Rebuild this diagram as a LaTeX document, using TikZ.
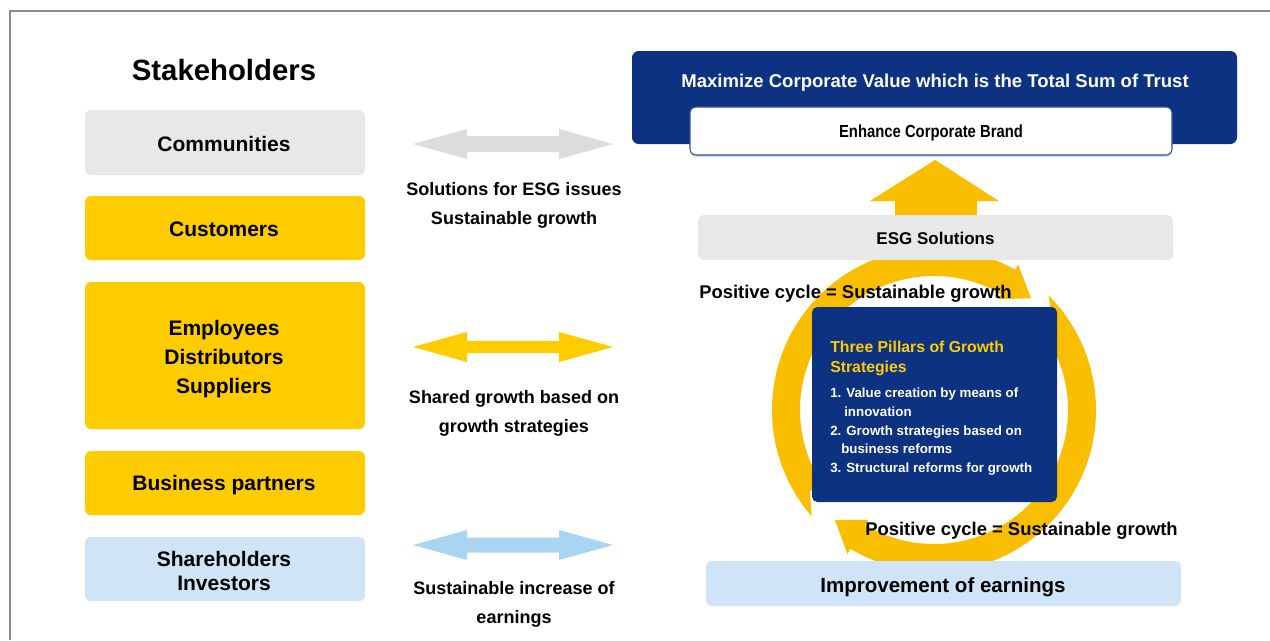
\documentclass[tikz,border=0pt]{standalone}
\usepackage{fontspec}
\setmainfont{Liberation Sans}
\usetikzlibrary{calc,shadows}
\definecolor{navy}{RGB}{13,50,130}
\definecolor{boxgray}{RGB}{232,232,232}
\definecolor{arrgray}{RGB}{220,220,220}
\definecolor{boxyellow}{RGB}{255,204,0}
\definecolor{ringyellow}{RGB}{249,190,0}
\definecolor{boxblue}{RGB}{207,229,247}
\definecolor{arrblue}{RGB}{169,213,243}
\definecolor{framegray}{RGB}{140,140,140}
\newcommand\dblarrow[3]{%
  \fill[#1] (413,#2) -- (467,#2-15) -- (467,#2-#3) -- (559,#2-#3) -- (559,#2-15) -- (613,#2)
    -- (559,#2+15) -- (559,#2+#3) -- (467,#2+#3) -- (467,#2+15) -- cycle;}
\begin{document}
\begin{tikzpicture}[x=0.75pt,y=-0.75pt,
  lbox/.style={rounded corners=4.5pt, inner sep=0pt, minimum width=210pt},
  ltxt/.style={inner sep=0pt, align=center, font=\fontsize{15.75}{21.75}\selectfont\bfseries},
  rbox/.style={rounded corners=4.5pt, inner sep=0pt, minimum width=356.25pt, minimum height=33.75pt},
  lbl/.style={align=center, inner sep=0pt, font=\fontsize{13.5}{21.75}\selectfont\bfseries},
  cyc/.style={inner sep=0pt, font=\fontsize{13.8}{16}\selectfont\bfseries},
  pil/.style={anchor=base west, inner sep=0pt, text=white, font=\fontsize{10}{12}\selectfont\bfseries},
  pilt/.style={anchor=base west, inner sep=0pt, text=boxyellow, font=\fontsize{11.85}{14}\selectfont\bfseries}
]
\useasboundingbox (0,0) rectangle (1270,640);
% frame
\draw[framegray, line width=1pt] (10,640) -- (10,11) -- (1270,11);

% stakeholders column
\node[inner sep=0pt, font=\fontsize{22}{26}\selectfont\bfseries] (title) at (224,70) {Stakeholders};
\node[lbox, fill=boxgray, minimum height=48.75pt] (comm) at (225,142.5) {};
\node[lbox, fill=boxyellow, minimum height=48pt] (cust) at (225,228) {};
\node[lbox, fill=boxyellow, minimum height=110.25pt] (emp) at (225,355.5) {};
\node[lbox, fill=boxyellow, minimum height=48pt] (bus) at (225,483) {};
\node[lbox, fill=boxblue, minimum height=48pt] (share) at (225,569) {};
\node[ltxt] (commtxt) at (224,143.5) {Communities};
\node[ltxt] (custtxt) at (224,229.5) {Customers};
\node[ltxt] (emptxt) at (224,359.5) {Employees\\Distributors\\Suppliers};
\node[ltxt] (bustxt) at (224,485) {Business partners};
\node[ltxt, font=\fontsize{15.75}{18}\selectfont\bfseries] (sharetxt) at (224,571) {Shareholders\\Investors};

% double arrows
\dblarrow{arrgray}{144}{8}
\dblarrow{boxyellow}{347}{6}
\dblarrow{arrblue}{545}{7.5}
\node[lbl] (l1) at (514,205.5) {Solutions for ESG issues\\Sustainable growth};
\node[lbl] (l2) at (514,413) {Shared growth based on\\growth strategies};
\node[lbl] (l3) at (514,604.5) {Sustainable increase of\\earnings};

% cycle ring
\coordinate (C) at (934,410);
\fill[ringyellow] ($(C)+(139:162)$) arc[start angle=139,end angle=300,radius=162]
  -- ($(C)+(300:168)$) -- ($(C)+(311:148)$) -- ($(C)+(300:128)$) -- ($(C)+(300:134)$)
  arc[start angle=300,end angle=139,radius=134] -- ($(C)+(147:148)$) -- cycle;
\fill[ringyellow] ($(C)+(315:162)$) arc[start angle=315,end angle=481,radius=162]
  -- ($(C)+(481:168)$) -- ($(C)+(492:148)$) -- ($(C)+(481:128)$) -- ($(C)+(481:134)$)
  arc[start angle=481,end angle=315,radius=134] -- ($(C)+(323:148)$) -- cycle;

% right column
\node[rounded corners=5pt, fill=navy, minimum width=453.75pt, minimum height=69.75pt, inner sep=0pt] (top) at (934.5,97.5) {};
\node[inner sep=0pt, text=white, font=\fontsize{13.9}{16}\selectfont\bfseries] (toptxt) at (935,83) {Maximize Corporate Value which is the Total Sum of Trust};
\node[rounded corners=4.5pt, fill=white, draw=navy!85, line width=0.8pt, minimum width=361.5pt, minimum height=36pt, inner sep=0pt,
  drop shadow={opacity=0.3, shadow xshift=0pt, shadow yshift=-1.5pt}] (brand) at (931,131) {};
\node[inner sep=0pt, font=\fontsize{13.1}{16}\selectfont\bfseries] (brandtxt) at (931,132.5) {\scalebox{0.85}[1]{Enhance Corporate Brand}};
\node[rbox, fill=boxgray] (esg) at (935.5,237.5) {};
\node[inner sep=0pt, font=\fontsize{12.75}{15}\selectfont\bfseries] (esgtxt) at (935.5,238.5) {ESG Solutions};
\fill[ringyellow] (935,160) -- (999,201) -- (977,201) -- (977,215) -- (895,215) -- (895,201) -- (870,201) -- cycle;
\node[rbox, fill=boxblue] (earn) at (943.5,583.5) {};
\node[inner sep=0pt, font=\fontsize{15.4}{18}\selectfont\bfseries] (earntxt) at (943,587) {Improvement of earnings};

% pillars box
\node[rounded corners=4pt, fill=navy, minimum width=183.75pt, minimum height=146.25pt, inner sep=0pt] (pillars) at (934.5,404.5) {};
\node[pilt] (pt1) at (830,352) {Three Pillars of Growth};
\node[pilt] (pt2) at (830,372) {Strategies};
\node[pil] (i1) at (830,397) {1. Value creation by means of};
\node[pil] (i1b) at (844,416) {innovation};
\node[pil] (i2) at (830,435) {2. Growth strategies based on};
\node[pil] (i2b) at (841,453) {business reforms};
\node[pil] (i3) at (830,472) {3. Structural reforms for growth};

% cycle labels
\node[cyc] (c1) at (855.5,294) {Positive cycle = Sustainable growth};
\node[cyc] (c2) at (1021.5,531) {Positive cycle = Sustainable growth};
\end{tikzpicture}
\end{document}
